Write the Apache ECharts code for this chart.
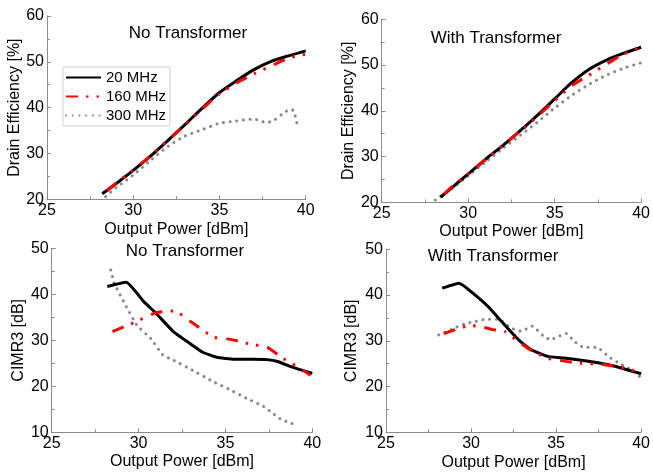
<!DOCTYPE html>
<html><head><meta charset="utf-8">
<script src="https://cdn.jsdelivr.net/npm/echarts@6/dist/echarts.min.js"></script>
<style>html,body{margin:0;padding:0;background:#fff}#c{width:653px;height:473px}</style>
</head><body><div id="c"></div>
<script>
const seriesNames = ['20 MHz', '160 MHz', '300 MHz'];
const panelTitles = ['No Transformer', 'With Transformer', 'No Transformer', 'With Transformer'];
const xTicks = [25, 30, 35, 40];
const deTicks = [20, 30, 40, 50, 60];
const cimTicks = [10, 20, 30, 40, 50];

// Drain efficiency, no transformer
const deNo20 = [[28.2,21.2],[29,23.4],[30,26.3],[31,29.4],[32,32.8],[33,36.3],[34,39.9],[35,43.3],[36,45.9],[37,48.3],[38,50.1],[39,51.3],[40,52.4]];
const deNo160 = [[28.5,21.9],[29,23.5],[30,26.4],[31,29.5],[32,32.9],[33,36.2],[34,39.7],[35,43.0],[36,45.4],[37,47.4],[38,49.1],[39,50.8],[40,51.7]];
const deNo300 = [[28.4,20.6],[29,22.5],[30,25.3],[31,28.5],[32,31.5],[33,33.8],[34,35.2],[35,36.6],[36,37.1],[37,37.5],[37.7,36.8],[38.1,37.1],[38.6,38.5],[39.1,39.6],[39.3,39.3],[39.5,36.3]];
// Drain efficiency, with transformer
const deWith20 = [[28.4,21.1],[29,23.0],[30,26.2],[31,29.4],[32,32.4],[33,35.6],[34,39.0],[35,42.6],[36,46.2],[37,49.1],[38,51.1],[39,52.6],[40,53.9]];
const deWith160 = [[28.6,21.8],[29,23.2],[30,26.2],[31,29.3],[32,32.4],[33,35.5],[34,38.8],[35,42.2],[36,45.5],[37,47.8],[38,50.2],[39,52.4],[40,53.8]];
const deWith300 = [[28.1,20.5],[29,22.9],[30,25.8],[31,28.8],[32,31.8],[33,34.6],[34,37.5],[35,40.6],[36,43.4],[37,45.8],[38,47.8],[39,49.3],[40,50.5]];
// CIMR3, no transformer
const cimNo20 = [[28.2,41.7],[29.3,42.6],[30.3,38.4],[31,35.9],[32,31.9],[33,29.2],[33.7,27.4],[34.5,26.3],[35.5,25.9],[36.6,25.9],[37.4,25.8],[38,25.4],[38.9,24.1],[40,22.8]];
const cimNo160 = [[28.5,31.9],[29.7,33.8],[31,36.0],[32.1,36.4],[32.8,34.6],[34.3,30.7],[35.3,30.2],[36.4,29.2],[37.4,28.5],[38.3,26.1],[39.3,23.9],[39.9,22.4]];
const cimNo300 = [[28.4,45.3],[28.6,42.4],[29.3,37.3],[29.9,33.3],[30.7,30.4],[31.4,26.8],[32,25.7],[33.1,23.5],[34.3,21.0],[35.3,19.2],[36.2,17.4],[37.2,15.6],[37.7,14.2],[38.2,12.8],[38.7,12.1],[39.2,11.4]];
// CIMR3, with transformer
const cimWith20 = [[28.3,41.5],[29.3,42.6],[30.25,40.0],[31,37.5],[31.8,34.2],[32.8,30.2],[33.5,28.1],[34.5,26.6],[35.3,26.3],[36.8,25.6],[38.4,24.5],[40,22.8]];
const cimWith160 = [[28.4,31.6],[29.9,33.3],[30.5,33.2],[31.2,32.5],[32,32.0],[32.8,29.8],[33.5,28.0],[34.5,26.2],[35.6,25.5],[36.4,25.1],[37.6,24.9],[38.5,24.4],[39.2,24.0],[39.8,23.0]];
const cimWith300 = [[28.1,31.3],[29.1,32.9],[29.7,33.8],[30.25,34.2],[30.8,34.7],[31.6,34.7],[32.4,32.7],[32.95,32.1],[33.6,33.2],[34.3,30.9],[34.7,30.2],[35.1,30.9],[35.6,31.6],[36.1,29.8],[36.6,28.6],[37.4,28.6],[38.1,26.5],[38.7,25.1],[39.4,23.7],[39.9,22.2]];

const panelData = [
  [deNo20, deNo160, deNo300],
  [deWith20, deWith160, deWith300],
  [cimNo20, cimNo160, cimNo300],
  [cimWith20, cimWith160, cimWith300]
];

const FONT = 'Liberation Sans, Arial, sans-serif';
const grids = [
  {left: 47, top: 16, width: 258.7, height: 183.3},
  {left: 381.7, top: 19.3, width: 260, height: 183},
  {left: 51.7, top: 248.3, width: 260.6, height: 184},
  {left: 386, top: 249.3, width: 259, height: 183}
];
const titlePos = [[188, 33], [496, 38], [185, 251], [493, 256]];
const xNameGap = [22, 21, 21, 22];
const yNameGap = [24, 23, 24, 26];
const smoothness = [0.25, 0.25, 0.12, 0.12];

const axisCommon = {
  axisLine: {show: true, lineStyle: {color: '#8c8c8c', width: 1}},
  axisTick: {show: true, inside: true, length: 4, lineStyle: {color: '#8c8c8c'}},
  minorTick: {show: true, splitNumber: 2, length: 3, lineStyle: {color: '#8c8c8c'}},
  splitLine: {show: false},
  axisLabel: {color: '#000', fontSize: 16, fontFamily: FONT, margin: 3},
  nameTextStyle: {color: '#000', fontSize: 16, fontFamily: FONT},
  nameLocation: 'middle'
};

const xAxes = grids.map((g, i) => Object.assign({}, axisCommon, {
  type: 'value', gridIndex: i, min: xTicks[0], max: xTicks[xTicks.length - 1], interval: 5,
  name: 'Output Power [dBm]', nameGap: xNameGap[i]
}));
const yAxes = grids.map((g, i) => {
  const t = i < 2 ? deTicks : cimTicks;
  return Object.assign({}, axisCommon, {
    type: 'value', gridIndex: i, min: t[0], max: t[t.length - 1], interval: 10,
    name: i < 2 ? 'Drain Efficiency [%]' : 'CIMR3 [dB]', nameGap: yNameGap[i]
  });
});

const styles = {
  '20 MHz': {color: '#000', lineStyle: {color: '#000', width: 3, type: 'solid'}},
  '160 MHz': {color: '#ff0000', lineStyle: {color: '#ff0000', width: 3, type: [12, 8, 2.5, 8, 2.5, 9]}},
  '300 MHz': {color: '#888', lineStyle: {color: '#888', width: 3, type: [0.1, 6.6], cap: 'round'}}
};
// draw order: gray under, black, red on top
const drawOrder = [2, 0, 1];
const series = [];
panelData.forEach((arrs, p) => {
  drawOrder.forEach(k => {
    const nm = seriesNames[k];
    series.push({
      type: 'line', name: nm, xAxisIndex: p, yAxisIndex: p,
      data: arrs[k], showSymbol: false, symbol: 'none', smooth: smoothness[p],
      itemStyle: {color: styles[nm].color},
      lineStyle: styles[nm].lineStyle, silent: true, animation: false
    });
  });
});

const chart = echarts.init(document.getElementById('c'), null, {renderer: 'canvas'});
chart.setOption({
  animation: false,
  backgroundColor: '#fff',
  grid: grids.map(g => Object.assign({containLabel: false}, g)),
  xAxis: xAxes,
  yAxis: yAxes,
  legend: {
    data: seriesNames, orient: 'vertical', left: 63, top: 67,
    itemWidth: 35, itemHeight: 14, itemGap: 4,
    padding: [3, 4, 3, 2],
    borderColor: '#d0d0d0', borderWidth: 1,
    itemStyle: {opacity: 0},
    textStyle: {color: '#000', fontSize: 15, fontFamily: FONT},
    selectedMode: false
  },
  graphic: panelTitles.map((t, i) => ({
    type: 'text', x: titlePos[i][0], y: titlePos[i][1], silent: true,
    style: {text: t, fill: '#000', font: '17px ' + FONT, align: 'center', verticalAlign: 'middle'}
  })),
  series: series
});
</script></body></html>
